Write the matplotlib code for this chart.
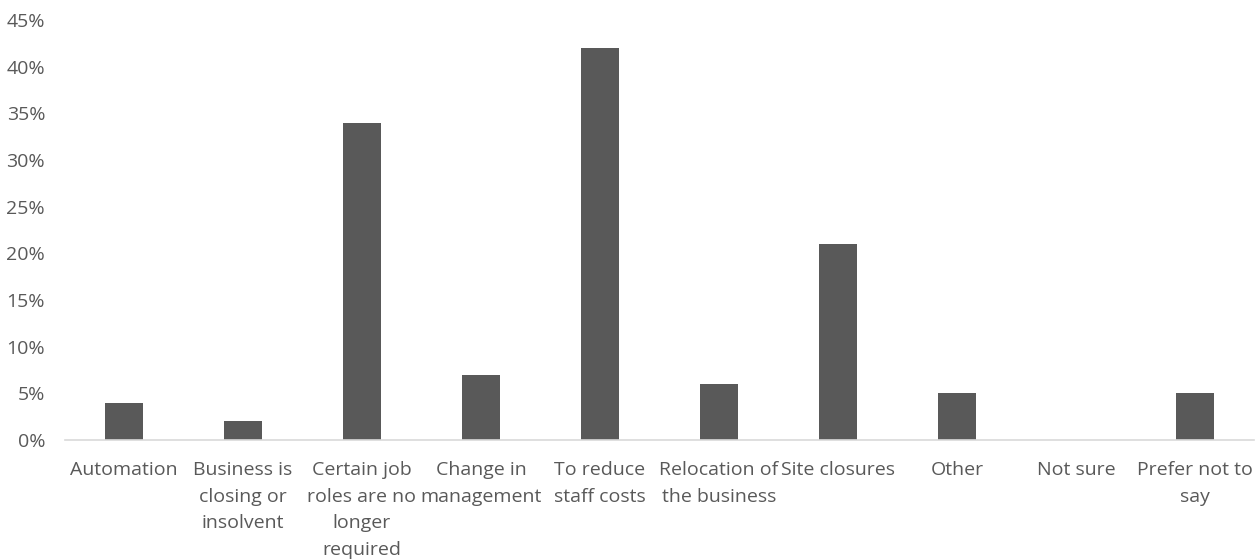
import matplotlib
matplotlib.use('Agg')
import matplotlib.pyplot as plt
from matplotlib.ticker import PercentFormatter

categories = ['Automation', 'Business is\nclosing or\ninsolvent',
              'Certain job\nroles are no\nlonger\nrequired', 'Change in\nmanagement',
              'To reduce\nstaff costs', 'Relocation of\nthe business', 'Site closures',
              'Other', 'Not sure', 'Prefer not to\nsay']
shares = [4, 2, 34, 7, 42, 6, 21, 5, 0, 5]
yticks = [0, 5, 10, 15, 20, 25, 30, 35, 40, 45]

plt.rcParams['font.family'] = ['Open Sans', 'DejaVu Sans']
text_col = '#595959'

fig = plt.figure(figsize=(12.6, 5.6), dpi=100)
ax = fig.add_axes([0.0512, 0.214, 0.9444, 0.75])

x = range(len(categories))
ax.bar(x, shares, width=0.32, color='#595959', zorder=2)

ax.set_xlim(-0.5, len(categories) - 0.5)
ax.set_ylim(0, 45)
ax.set_yticks(yticks)
ax.yaxis.set_major_formatter(PercentFormatter(decimals=0))
ax.set_xticks(list(x))
ax.set_xticklabels(categories, linespacing=1.61)

for side in ['top', 'right', 'left']:
    ax.spines[side].set_visible(False)
ax.spines['bottom'].set_color('#d9d9d9')
ax.spines['bottom'].set_linewidth(1.2)
ax.tick_params(axis='both', length=0, labelsize=14, labelcolor=text_col)
ax.tick_params(axis='x', pad=15)
ax.tick_params(axis='y', pad=14)

fig.savefig('out.png', dpi=100)
